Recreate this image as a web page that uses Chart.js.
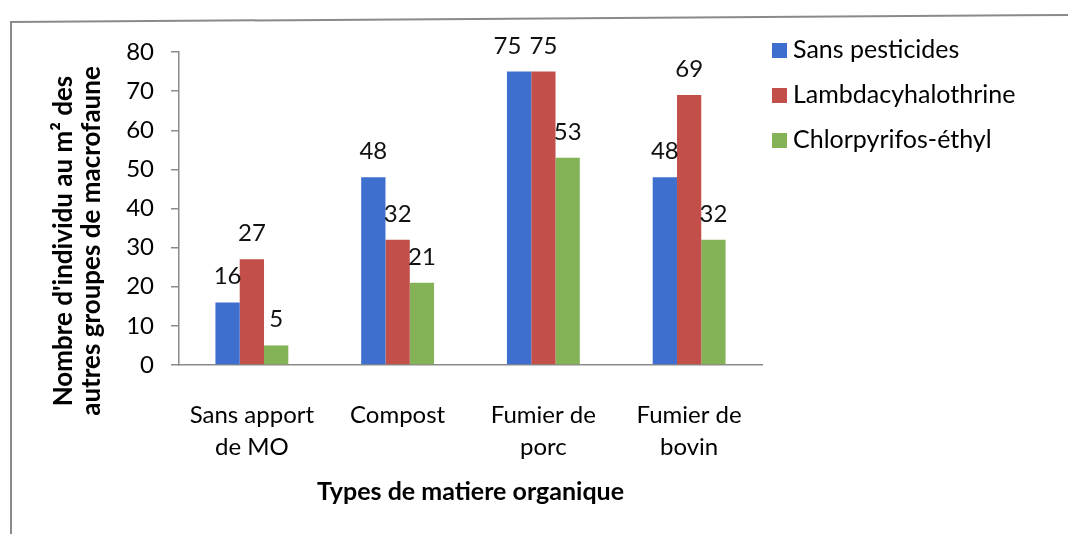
<!DOCTYPE html>
<html>
<head>
<meta charset="utf-8">
<script src="https://cdn.jsdelivr.net/npm/chart.js@4.4.1/dist/chart.umd.min.js"></script>
<style>
  html, body { margin: 0; padding: 0; background: #fff; }
  #wrap { position: relative; width: 1068px; height: 534px; overflow: hidden; }
  #frameTop { position: absolute; left: 10px; top: 21px; width: 1080px; height: 0;
              border-top: 2px solid #8a8a8a; transform: rotate(-0.38deg); transform-origin: left top; }
  #frameLeft { position: absolute; left: 10px; top: 21px; width: 0; height: 520px;
               border-left: 2px solid #8a8a8a; }
  #chart { position: absolute; left: 0; top: 0; }
  #legend { position: absolute; left: 772px; top: 30px; font-family: Lato, sans-serif; font-size: 25px; color: #000; }
  #legend div { height: 45px; line-height: 36px; white-space: nowrap; }
  #legend span { display: inline-block; width: 15px; height: 15px; margin-right: 6px; vertical-align: 0px; }
</style>
</head>
<body>
<div id="wrap">
  <div id="frameTop"></div>
  <div id="frameLeft"></div>
  <canvas id="chart" width="1068" height="534"></canvas>
  <div id="legend"></div>
</div>
<script>
var categories = [["Sans apport", "de MO"], ["Compost"], ["Fumier de", "porc"], ["Fumier de", "bovin"]];
var sansPesticides = [16, 48, 75, 48];
var lambdacyhalothrine = [27, 32, 75, 69];
var chlorpyrifos = [5, 21, 53, 32];
var yTicks = [0, 10, 20, 30, 40, 50, 60, 70, 80];
var yTitle = ["Nombre d'individu au m\u00B2 des", "autres groupes de macrofaune"];
var xTitle = "Types de matiere organique";

var FONT = "Lato, sans-serif";

// value labels above each bar, nudged left when two would collide
var barValues = {
  id: 'barValues',
  afterDatasetsDraw: function(chart) {
    var ctx = chart.ctx;
    ctx.save();
    ctx.font = "24px " + FONT;
    ctx.fillStyle = "#111";
    ctx.textAlign = "center";
    ctx.textBaseline = "alphabetic";
    var n = chart.data.labels.length;
    for (var j = 0; j < n; j++) {
      var items = chart.data.datasets.map(function(ds, i) {
        var bar = chart.getDatasetMeta(i).data[j];
        var txt = String(ds.data[j]);
        return { txt: txt, x: bar.x, y: bar.y - 18, w: ctx.measureText(txt).width };
      });
      for (var k = items.length - 2; k >= 0; k--) {
        var a = items[k], b = items[k + 1];
        if (Math.abs(a.y - b.y) < 20) {
          var overlap = (a.x + a.w / 2) - (b.x - b.w / 2) + 8;
          if (overlap > 0) a.x -= overlap;
        }
      }
      items.forEach(function(it) { ctx.fillText(it.txt, it.x, it.y); });
    }
    ctx.restore();
  }
};

// y axis title, two lines, placed like the excel one
var yAxisTitle = {
  id: 'yAxisTitle',
  afterDraw: function(chart) {
    var ctx = chart.ctx;
    var area = chart.chartArea;
    ctx.save();
    ctx.font = "bold 26px " + FONT;
    ctx.fillStyle = "#000";
    ctx.textAlign = "center";
    ctx.textBaseline = "alphabetic";
    ctx.translate(72, area.bottom - 124);
    ctx.rotate(-Math.PI / 2);
    ctx.fillText(yTitle[0], 0, 0);
    ctx.fillText(yTitle[1], 0, 28);
    ctx.restore();
  }
};

var chart = new Chart(document.getElementById("chart"), {
  type: 'bar',
  data: {
    labels: categories,
    datasets: [
      { label: 'Sans pesticides', data: sansPesticides, backgroundColor: '#3e6fcf' },
      { label: 'Lambdacyhalothrine', data: lambdacyhalothrine, backgroundColor: '#c24f4a' },
      { label: 'Chlorpyrifos-\u00E9thyl', data: chlorpyrifos, backgroundColor: '#84b257' }
    ]
  },
  options: {
    responsive: false,
    animation: false,
    layout: { padding: { top: 52, right: 306, bottom: 0, left: 0 } },
    datasets: { bar: { categoryPercentage: 0.5, barPercentage: 1.0 } },
    plugins: { legend: { display: false }, tooltip: { enabled: false } },
    scales: {
      x: {
        grid: { display: false },
        border: { color: '#8a8a8a', width: 1.5 },
        ticks: { font: { family: FONT, size: 24, lineHeight: 1.3 }, color: '#000', padding: 27, maxRotation: 0 },
        title: { display: true, text: xTitle, color: '#000', font: { family: FONT, size: 25, weight: 'bold', lineHeight: 1.2 }, padding: { top: 0, bottom: 27 } },
        afterFit: function(s) { s.height = 169; }
      },
      y: {
        min: 0, max: 80,
        afterBuildTicks: function(s) { s.ticks = yTicks.map(function(v) { return { value: v }; }); },
        grid: { drawOnChartArea: false, drawTicks: true, tickLength: 8, color: '#8a8a8a', lineWidth: 1.5 },
        border: { color: '#8a8a8a', width: 1.5 },
        ticks: { font: { family: FONT, size: 24 }, color: '#000', padding: 17 },
        afterFit: function(s) { s.width = 179; }
      }
    }
  },
  plugins: [barValues, yAxisTitle]
});

// legend built from the datasets
var leg = document.getElementById("legend");
chart.data.datasets.forEach(function(ds) {
  var row = document.createElement("div");
  var sw = document.createElement("span");
  sw.style.background = ds.backgroundColor;
  row.appendChild(sw);
  row.appendChild(document.createTextNode(ds.label));
  leg.appendChild(row);
});
</script>
</body>
</html>
